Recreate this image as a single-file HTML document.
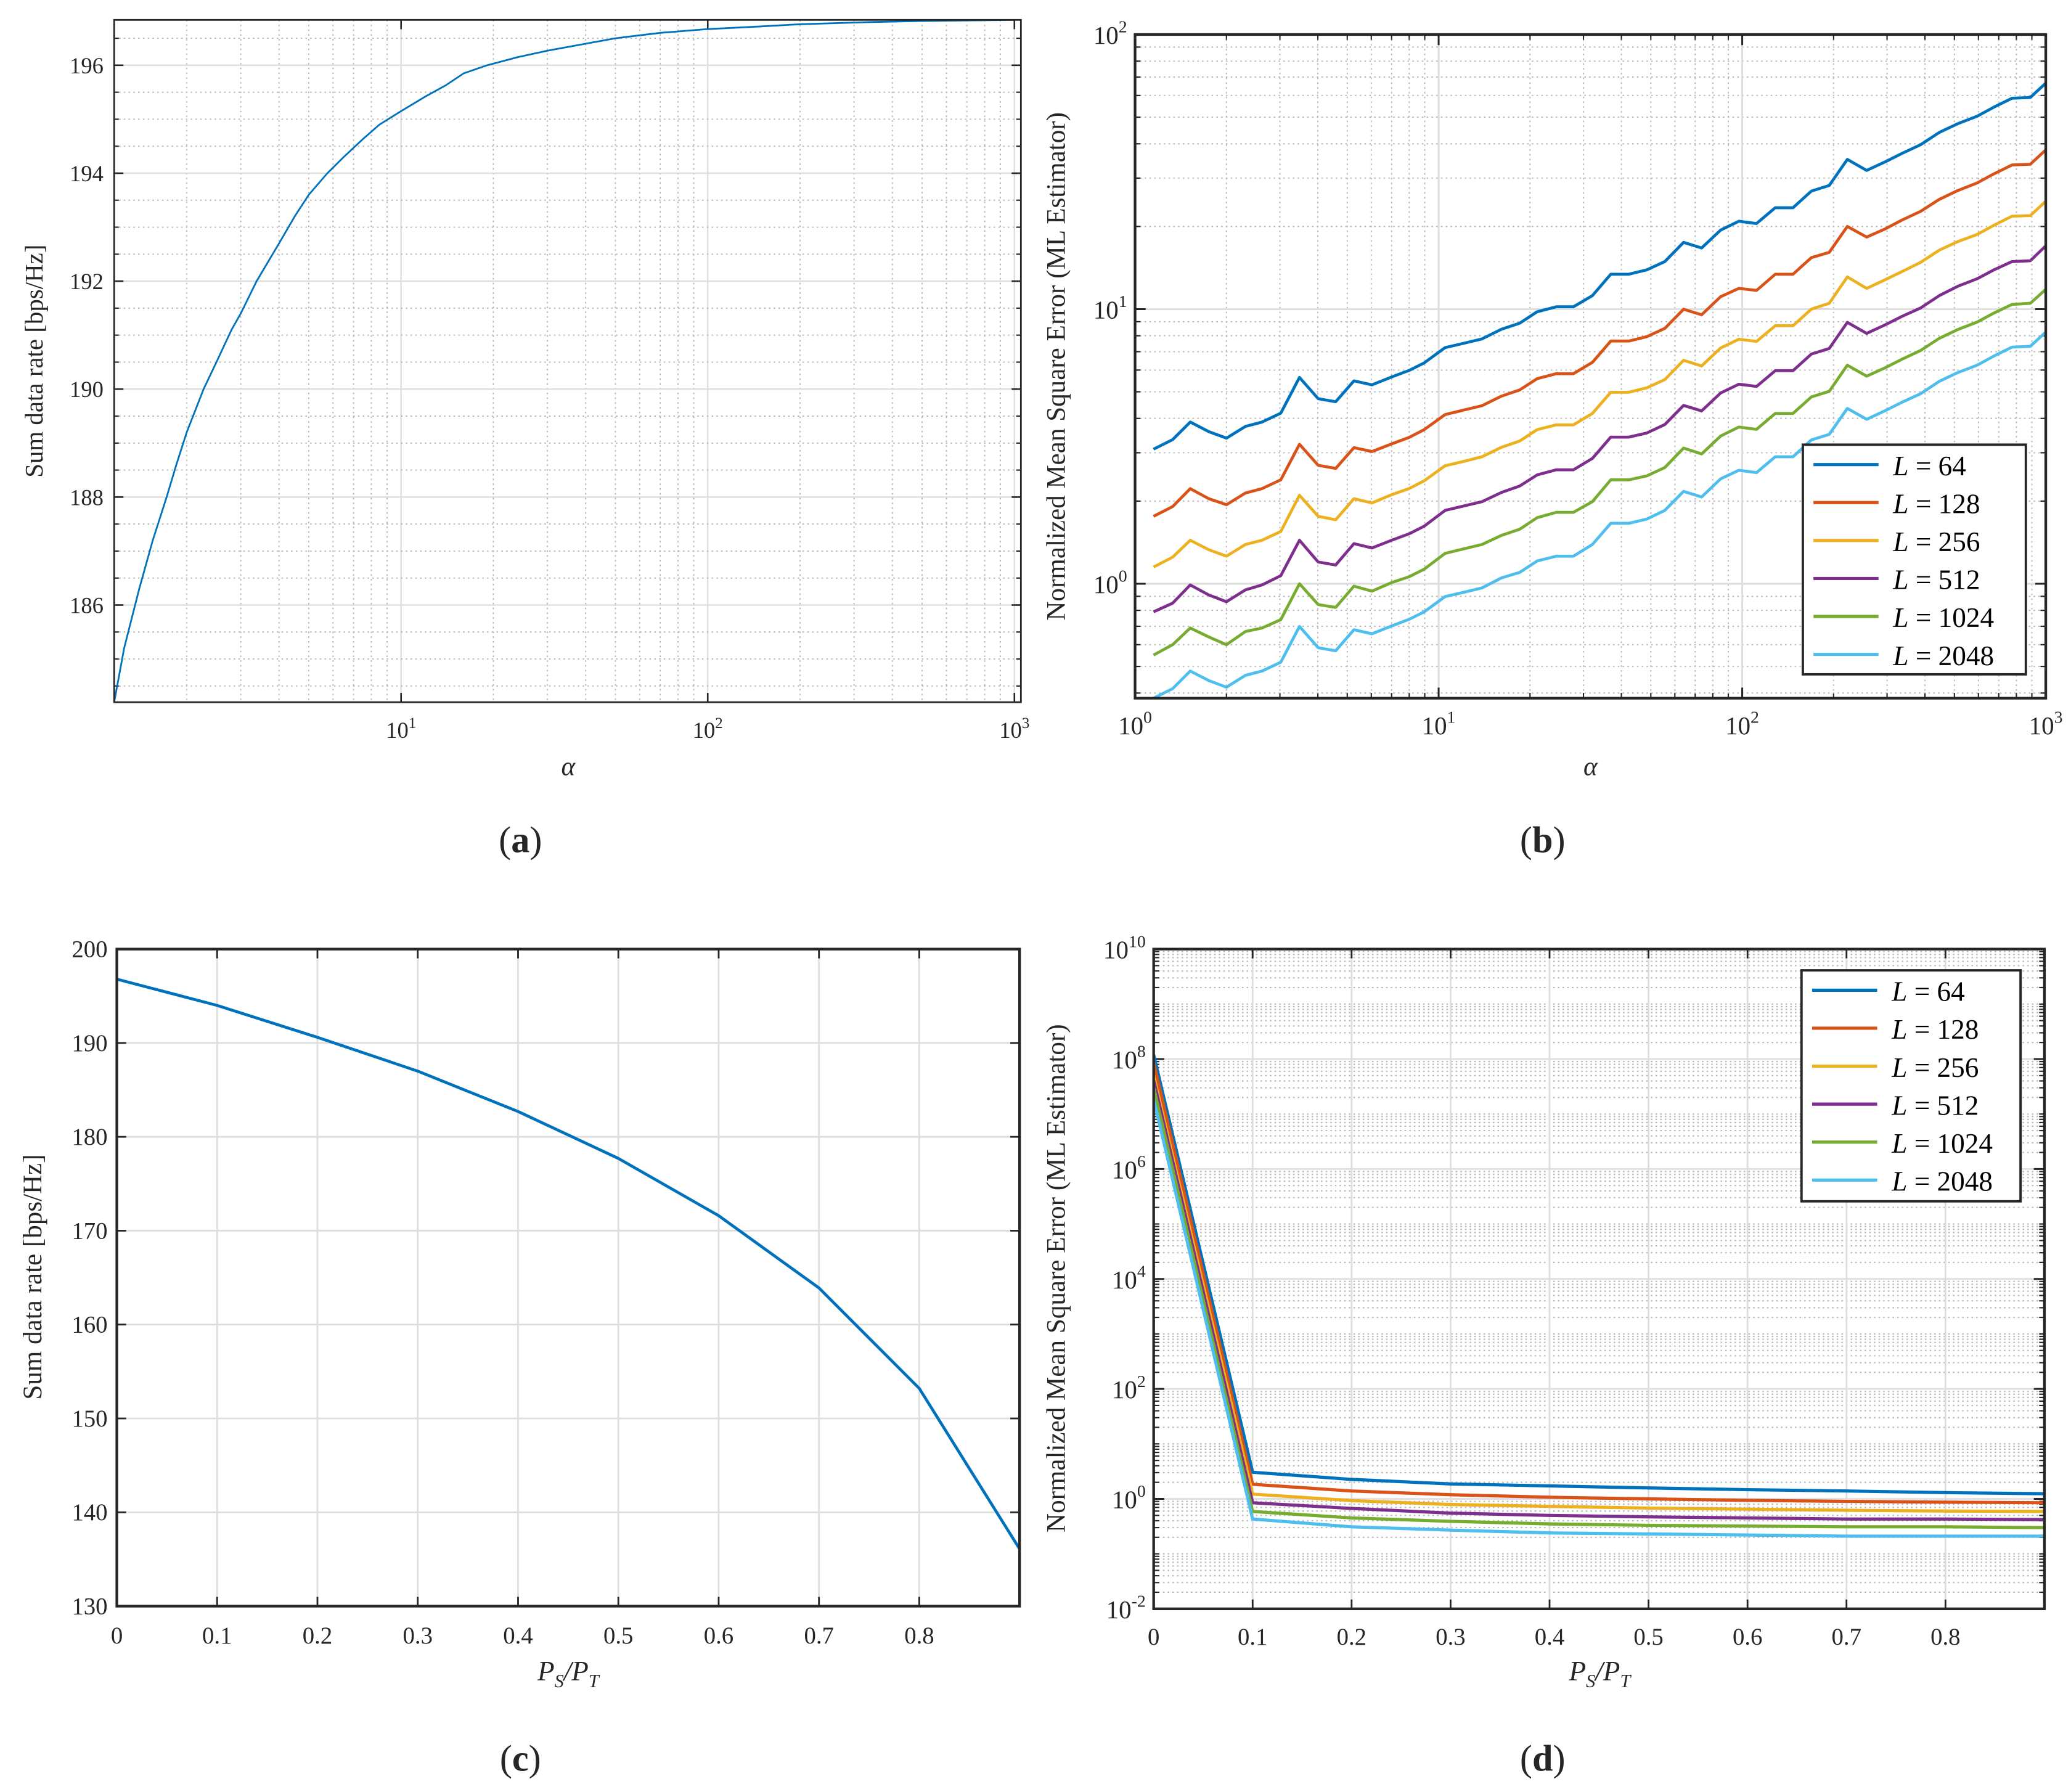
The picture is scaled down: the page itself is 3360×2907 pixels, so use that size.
<!DOCTYPE html>
<html><head><meta charset="utf-8"><style>
html,body{margin:0;padding:0;background:#fff;}
svg{display:block;font-family:"Liberation Serif",serif;}
</style></head><body>
<svg id="fig" width="3360" height="2907" viewBox="0 0 1560 1350" preserveAspectRatio="none" xmlns="http://www.w3.org/2000/svg">
<defs>
<clipPath id="clipA"><rect x="86" y="15" width="683" height="514"/></clipPath>
<clipPath id="clipB"><rect x="855" y="26" width="686" height="500"/></clipPath>
<clipPath id="clipC"><rect x="88" y="715" width="680" height="495"/></clipPath>
<clipPath id="clipD"><rect x="869" y="715" width="671" height="497"/></clipPath>
</defs>
</svg>
<script>
// ---- data: panel (a)
const alphaA = [1.16,1.25,1.4,1.55,1.72,1.85,2,2.27,2.5,2.8,3,3.38,4,4.5,5,5.75,6.5,7.5,8.5,10,12,14,16,19.1,24,30,40,50,70,100,150,200,340,500,1000];
const rateA = [184.2,185.2,186.3,187.2,188.0,188.6,189.2,190.0,190.5,191.1,191.4,192.0,192.7,193.2,193.6,194.0,194.3,194.63,194.9,195.15,195.42,195.63,195.85,196.0,196.15,196.27,196.4,196.5,196.6,196.67,196.72,196.76,196.8,196.82,196.84];
// ---- data: panel (b)
const alphaB = [1.15,1.33,1.52,1.75,2.0,2.31,2.62,3.02,3.48,4.01,4.58,5.26,6.03,7.0,7.99,8.96,10.5,12.1,13.9,16.1,18.5,21.1,24.4,27.8,32.1,36.9,42.3,48.5,55.6,64.1,73.5,84.9,97.5,111.5,128.5,147,169,193.5,222,257,296,336,387,446,512,594,675,774,889,1000];
const nmseB64 = [3.09,3.35,3.88,3.58,3.39,3.74,3.88,4.18,5.64,4.72,4.60,5.48,5.30,5.66,5.98,6.37,7.24,7.51,7.79,8.45,8.89,9.78,10.2,10.2,11.2,13.4,13.4,13.9,14.9,17.5,16.7,19.4,20.9,20.5,23.4,23.4,26.9,28.2,35.1,32.0,34.4,36.9,39.7,44.0,47.3,50.4,54.4,58.6,59.0,66.5];
const nmseB128 = [1.76,1.91,2.22,2.04,1.94,2.14,2.22,2.39,3.22,2.70,2.63,3.13,3.03,3.23,3.41,3.64,4.13,4.29,4.45,4.82,5.08,5.58,5.82,5.82,6.40,7.65,7.65,7.94,8.51,9.99,9.54,11.1,11.9,11.7,13.4,13.4,15.4,16.1,20.0,18.3,19.6,21.1,22.7,25.1,27.0,28.8,31.1,33.5,33.7,38.0];
const nmseB256 = [1.15,1.25,1.44,1.33,1.26,1.39,1.44,1.55,2.10,1.76,1.71,2.04,1.97,2.11,2.22,2.37,2.69,2.79,2.90,3.14,3.31,3.64,3.79,3.79,4.17,4.98,4.98,5.17,5.54,6.51,6.21,7.22,7.77,7.63,8.70,8.70,10.0,10.5,13.1,11.9,12.8,13.7,14.8,16.4,17.6,18.7,20.2,21.8,21.9,24.7];
const nmseB512 = [0.79,0.85,0.99,0.91,0.86,0.95,0.99,1.07,1.44,1.20,1.17,1.40,1.35,1.44,1.52,1.62,1.85,1.92,1.99,2.15,2.27,2.49,2.60,2.60,2.86,3.42,3.42,3.54,3.80,4.46,4.26,4.95,5.33,5.23,5.97,5.97,6.86,7.19,8.95,8.16,8.77,9.41,10.1,11.2,12.1,12.9,13.9,14.9,15.0,17.0];
const nmseB1024 = [0.55,0.60,0.69,0.64,0.60,0.67,0.69,0.74,1.00,0.84,0.82,0.98,0.94,1.01,1.06,1.13,1.29,1.34,1.39,1.50,1.58,1.74,1.82,1.82,1.99,2.39,2.39,2.47,2.65,3.12,2.97,3.45,3.72,3.65,4.17,4.17,4.79,5.02,6.25,5.70,6.12,6.57,7.07,7.83,8.42,8.97,9.68,10.4,10.5,11.8];
const nmseB2048 = [0.383,0.415,0.481,0.444,0.420,0.464,0.481,0.518,0.699,0.585,0.570,0.680,0.657,0.702,0.742,0.790,0.898,0.931,0.966,1.05,1.10,1.21,1.26,1.26,1.39,1.66,1.66,1.72,1.85,2.17,2.07,2.41,2.59,2.54,2.90,2.90,3.34,3.50,4.35,3.97,4.27,4.58,4.92,5.46,5.87,6.25,6.75,7.27,7.32,8.25];
// ---- data: panel (c)
const ratioC = [0,0.1,0.2,0.3,0.4,0.5,0.6,0.7,0.8,0.9];
const rateC = [196.8,194.0,190.6,187.0,182.7,177.7,171.6,163.9,153.2,136.1];
// ---- data: panel (d)
const ratioD = [0,0.1,0.2,0.3,0.4,0.5,0.6,0.7,0.8,0.9];
const nmseD64 = [1.2e8,3.05,2.26,1.87,1.72,1.58,1.47,1.39,1.30,1.24];
const nmseD128 = [8.6e7,1.84,1.39,1.19,1.07,1.0,0.94,0.90,0.87,0.85];
const nmseD256 = [5.0e7,1.22,0.93,0.79,0.73,0.68,0.65,0.62,0.60,0.59];
const nmseD512 = [4.1e7,0.85,0.67,0.55,0.50,0.47,0.45,0.43,0.43,0.42];
const nmseD1024 = [3.0e7,0.59,0.45,0.39,0.35,0.33,0.32,0.31,0.31,0.30];
const nmseD2048 = [1.86e7,0.43,0.31,0.27,0.24,0.23,0.22,0.21,0.21,0.21];
const legendLabels = ['64','128','256','512','1024','2048'];
const colors = ['#0072BD','#D95319','#EDB120','#7E2F8E','#77AC30','#4DBEEE'];

const NS = 'http://www.w3.org/2000/svg';
const svg = document.getElementById('fig');
const L10 = Math.log10;
function mk(tag, attrs, name, parent) {
  const el = document.createElementNS(NS, tag);
  for (const k in attrs) el.setAttribute(k, attrs[k]);
  
  
  (parent || svg).appendChild(el);
  return el;
}
function line(x1,y1,x2,y2,stroke,w,dash,name,p){
  const a={x1:x1,y1:y1,x2:x2,y2:y2,stroke:stroke,'stroke-width':w};
  if(dash) a['stroke-dasharray']=dash;
  return mk('line',a,name,p);
}
function txt(x,y,s,size,anchor,name,p,extra){
  const a={x:x,y:y,'font-size':size,'text-anchor':anchor||'middle',fill:'#262626'};
  for(const k in (extra||{})) a[k]=extra[k];
  const t=mk('text',a,name,p);
  t.textContent=s;
  return t;
}
function pow10(x,y,e,size,anchor,name,p){
  const t=mk('text',{x:x,y:y,'font-size':size,'text-anchor':anchor||'middle',fill:'#262626'},name,p);
  const b=document.createElementNS(NS,'tspan'); b.textContent='10'; t.appendChild(b);
  const s=document.createElementNS(NS,'tspan'); s.textContent=String(e);
  s.setAttribute('dy',-size*0.45); s.setAttribute('font-size',size*0.68); t.appendChild(s);
  return t;
}
function poly(xs,ys,fx,fy,color,w,name,clip){
  const pts=xs.map((x,i)=>fx(x).toFixed(2)+','+fy(ys[i]).toFixed(2)).join(' ');
  return mk('polyline',{points:pts,fill:'none',stroke:color,'stroke-width':w,'stroke-linejoin':'round','clip-path':'url(#'+clip+')'},name);
}
function box(x,y,w,h,name){
  mk('rect',{x:x,y:y,width:w,height:h,fill:'none',stroke:'#262626','stroke-width':1.3},name);
}
const GRID='#dedede', MINOR='#b8b8b8', DOT='1.2 2.4';

// ===== Panel (a)
(function(){
  const X0=86,X1=769,Y0=15,Y1=529, amin=1.16, amax=1050, vmin=184.2, vmax=196.84;
  const fx=a=>X0+(L10(a)-L10(amin))/(L10(amax)-L10(amin))*(X1-X0);
  const fy=v=>Y1-(v-vmin)/(vmax-vmin)*(Y1-Y0);
  const g=mk('g',{},'panel-a');
  for(let k=0;k<=3;k++)for(let m=1;m<=9;m++){const a=m*Math.pow(10,k); if(a<amin||a>amax) continue; const x=fx(a);
    if(m===1){line(x,Y0,x,Y1,GRID,1.1,null,'x-major-grid',g);} else line(x,Y0,x,Y1,MINOR,0.9,DOT,'x-minor-grid',g);}
  for(let v=184.5;v<vmax;v+=0.5){const y=fy(v); if(Math.abs(v-Math.round(v/2)*2)<1e-6) line(X0,y,X1,y,GRID,1.1,null,'y-major-grid',g); else line(X0,y,X1,y,MINOR,0.9,DOT,'y-minor-grid',g);}
  for(let v=186;v<=196;v+=2){const y=fy(v); line(X0,y,X0+7,y,'#262626',1.2,null,'y-tick',g); line(X1,y,X1-7,y,'#262626',1.2,null,'y-tick',g); txt(X0-8,y+6,String(v),17,'end','y-tick-label',g);}
  for(let v=184.5;v<vmax;v+=0.5){const y=fy(v); line(X0,y,X0+3.5,y,'#262626',1,null,'y-minor-tick',g); line(X1,y,X1-3.5,y,'#262626',1,null,'y-minor-tick',g);}
  [1,2,3].forEach(e=>{const x=fx(Math.pow(10,e)); line(x,Y1,x,Y1-7,'#262626',1.2,null,'x-tick',g); line(x,Y0,x,Y0+7,'#262626',1.2,null,'x-tick',g); pow10(x,Y1+27,e,17,'middle','x-tick-label',g);});
  poly(alphaA,rateA,fx,fy,colors[0],1.3,'rate-curve','clipA');
  box(X0,Y0,X1-X0,Y1-Y0,'axes-box-a');
  txt(0,0,'Sum data rate [bps/Hz]',19,'middle','y-axis-title-a',g,{transform:'translate(32,272) rotate(-90)'});
  txt(428,584,'α',20,'middle','x-axis-title-a',g,{'font-style':'italic'});
  const c=txt(392,642,'',28,'middle','caption-a',g);
  const t1=document.createElementNS(NS,'tspan'); t1.textContent='('; c.appendChild(t1);
  const t2=document.createElementNS(NS,'tspan'); t2.textContent='a'; t2.setAttribute('font-weight','bold'); c.appendChild(t2);
  const t3=document.createElementNS(NS,'tspan'); t3.textContent=')'; c.appendChild(t3);
})();

// ===== Panel (b)
(function(){
  const X0=855,X1=1541,Y0=26,Y1=526, vmin=0.383, vmax=100;
  const fx=a=>X0+L10(a)/3*(X1-X0);
  const fy=v=>Y0+(L10(vmax)-L10(v))/(L10(vmax)-L10(vmin))*(Y1-Y0);
  const g=mk('g',{},'panel-b');
  for(let k=0;k<3;k++)for(let m=2;m<=9;m++){const x=fx(m*Math.pow(10,k)); line(x,Y0,x,Y1,MINOR,0.9,DOT,'x-minor-grid',g); line(x,Y1,x,Y1-4,'#262626',1,null,'x-minor-tick',g); line(x,Y0,x,Y0+4,'#262626',1,null,'x-minor-tick',g);}
  for(let k=-1;k<2;k++)for(let m=2;m<=9;m++){const v=m*Math.pow(10,k); if(v<vmin) continue; const y=fy(v); line(X0,y,X1,y,MINOR,0.9,DOT,'y-minor-grid',g); line(X0,y,X0+4,y,'#262626',1,null,'y-minor-tick',g); line(X1,y,X1-4,y,'#262626',1,null,'y-minor-tick',g);}
  [1,2].forEach(e=>{const x=fx(Math.pow(10,e)); line(x,Y0,x,Y1,GRID,1.4,null,'x-major-grid',g);});
  [0,1].forEach(e=>{const y=fy(Math.pow(10,e)); line(X0,y,X1,y,GRID,1.4,null,'y-major-grid',g);});
  [0,1,2,3].forEach(e=>{const x=fx(Math.pow(10,e)); line(x,Y1,x,Y1-8,'#262626',1.4,null,'x-tick',g); line(x,Y0,x,Y0+8,'#262626',1.4,null,'x-tick',g); pow10(x,Y1+27,e,19,'middle','x-tick-label',g);});
  [0,1,2].forEach(e=>{const y=fy(Math.pow(10,e)); line(X0,y,X0+8,y,'#262626',1.4,null,'y-tick',g); line(X1,y,X1-8,y,'#262626',1.4,null,'y-tick',g); pow10(X0-6,y+7,e,19,'end','y-tick-label',g);});
  const series=[nmseB64,nmseB128,nmseB256,nmseB512,nmseB1024,nmseB2048];
  series.forEach((s,i)=>{ poly(alphaB,s,fx,fy,colors[i],2.2,'nmse-line-L'+legendLabels[i],'clipB'); });
  mk('rect',{x:X0,y:Y0,width:X1-X0,height:Y1-Y0,fill:'none',stroke:'#262626','stroke-width':2},'axes-box-b');
  txt(0,0,'Normalized Mean Square Error (ML Estimator)',20,'middle','y-axis-title-b',g,{transform:'translate(802,276) rotate(-90)'});
  txt(1198,584,'α',20,'middle','x-axis-title-b',g,{'font-style':'italic'});
  const c=txt(1162,642,'',28,'middle','caption-b',g);
  const t1=document.createElementNS(NS,'tspan'); t1.textContent='('; c.appendChild(t1);
  const t2=document.createElementNS(NS,'tspan'); t2.textContent='b'; t2.setAttribute('font-weight','bold'); c.appendChild(t2);
  const t3=document.createElementNS(NS,'tspan'); t3.textContent=')'; c.appendChild(t3);
  legend(1358,335,168,173,'legend-b');
})();

function legend(x,y,w,h,name){
  const g=mk('g',{},name);
  mk('rect',{x:x,y:y,width:w,height:h,fill:'#fff',stroke:'#262626','stroke-width':1.8},name+'-box',g);
  legendLabels.forEach((lab,i)=>{
    const yy=y+15+i*28.6;
    line(x+8,yy,x+57,yy,colors[i],2.4,null,'legend-line-L'+lab,g);
    const t=mk('text',{x:x+68,y:yy+8,'font-size':21,fill:'#000'},'legend-entry-L'+lab,g);
    const a=document.createElementNS(NS,'tspan'); a.textContent='L'; a.setAttribute('font-style','italic'); t.appendChild(a);
    const b=document.createElementNS(NS,'tspan'); b.textContent=' = '+lab; t.appendChild(b);
  });
}

function psptLabel(x,y,name,g){
  const t=mk('text',{x:x,y:y,'font-size':21,'text-anchor':'middle',fill:'#262626','font-style':'italic'},name,g);
  const parts=[['P',0,21],['S',5,14],['/P',-5,21],['T',5,14]];
  parts.forEach(p=>{const s=document.createElementNS(NS,'tspan'); s.textContent=p[0]; s.setAttribute('dy',p[1]); s.setAttribute('font-size',p[2]); t.appendChild(s);});
}

// ===== Panel (c)
(function(){
  const X0=88,X1=768,Y0=715,Y1=1210;
  const fx=p=>X0+p/0.9*(X1-X0);
  const fy=v=>Y0+(200-v)/70*(Y1-Y0);
  const g=mk('g',{},'panel-c');
  for(let i=1;i<=8;i++){const x=fx(i/10); line(x,Y0,x,Y1,GRID,1.3,null,'x-grid',g);}
  for(let v=140;v<=190;v+=10){const y=fy(v); line(X0,y,X1,y,GRID,1.3,null,'y-grid',g);}
  for(let i=0;i<=8;i++){const x=fx(i/10); line(x,Y1,x,Y1-7,'#262626',1.3,null,'x-tick',g); line(x,Y0,x,Y0+7,'#262626',1.3,null,'x-tick',g); txt(x,Y1+28,i===0?'0':(i/10).toFixed(1),18,'middle','x-tick-label',g);}
  for(let v=130;v<=200;v+=10){const y=fy(v); line(X0,y,X0+7,y,'#262626',1.3,null,'y-tick',g); line(X1,y,X1-7,y,'#262626',1.3,null,'y-tick',g); txt(X0-7,y+6,String(v),18,'end','y-tick-label',g);}
  poly(ratioC,rateC,fx,fy,colors[0],2.2,'rate-vs-power-line','clipC');
  mk('rect',{x:X0,y:Y0,width:X1-X0,height:Y1-Y0,fill:'none',stroke:'#262626','stroke-width':2},'axes-box-c');
  txt(0,0,'Sum data rate [bps/Hz]',20,'middle','y-axis-title-c',g,{transform:'translate(31,962) rotate(-90)'});
  psptLabel(428,1266,'x-axis-title-c',g);
  const c=txt(392,1334,'',28,'middle','caption-c',g);
  const t1=document.createElementNS(NS,'tspan'); t1.textContent='('; c.appendChild(t1);
  const t2=document.createElementNS(NS,'tspan'); t2.textContent='c'; t2.setAttribute('font-weight','bold'); c.appendChild(t2);
  const t3=document.createElementNS(NS,'tspan'); t3.textContent=')'; c.appendChild(t3);
})();

// ===== Panel (d)
(function(){
  const X0=869,X1=1540,Y0=715,Y1=1212;
  const fx=p=>X0+p/0.9*(X1-X0);
  const fy=v=>Y0+(10-L10(v))/12*(Y1-Y0);
  const g=mk('g',{},'panel-d');
  for(let k=-2;k<10;k++)for(let m=1;m<=9;m++){ if(m===1&&k%2===0) continue; const y=fy(m*Math.pow(10,k)); line(X0,y,X1,y,MINOR,1,'1.2 2.3','y-minor-grid',g); line(X0,y,X0+4,y,'#262626',1,null,'y-minor-tick',g); line(X1,y,X1-4,y,'#262626',1,null,'y-minor-tick',g);}
  for(let i=1;i<=8;i++){const x=fx(i/10); line(x,Y0,x,Y1,GRID,1.3,null,'x-grid',g);}
  for(let e=0;e<10;e+=2){const y=fy(Math.pow(10,e)); line(X0,y,X1,y,GRID,1.3,null,'y-major-grid',g);}
  for(let i=0;i<=8;i++){const x=fx(i/10); line(x,Y1,x,Y1-7,'#262626',1.3,null,'x-tick',g); line(x,Y0,x,Y0+7,'#262626',1.3,null,'x-tick',g); txt(x,Y1+27,i===0?'0':(i/10).toFixed(1),18,'middle','x-tick-label',g);}
  for(let e=-2;e<=10;e+=2){const y=fy(Math.pow(10,e)); line(X0,y,X0+8,y,'#262626',1.4,null,'y-tick',g); line(X1,y,X1-8,y,'#262626',1.4,null,'y-tick',g); pow10(X0-6,y+7,e,19,'end','y-tick-label',g);}
  const series=[nmseD64,nmseD128,nmseD256,nmseD512,nmseD1024,nmseD2048];
  series.forEach((s,i)=>{ poly(ratioD,s,fx,fy,colors[i],2.4,'nmse-vs-power-L'+legendLabels[i],'clipD'); });
  mk('rect',{x:X0,y:Y0,width:X1-X0,height:Y1-Y0,fill:'none',stroke:'#262626','stroke-width':2},'axes-box-d');
  txt(0,0,'Normalized Mean Square Error (ML Estimator)',20,'middle','y-axis-title-d',g,{transform:'translate(802,963) rotate(-90)'});
  psptLabel(1205,1266,'x-axis-title-d',g);
  const c=txt(1162,1334,'',28,'middle','caption-d',g);
  const t1=document.createElementNS(NS,'tspan'); t1.textContent='('; c.appendChild(t1);
  const t2=document.createElementNS(NS,'tspan'); t2.textContent='d'; t2.setAttribute('font-weight','bold'); c.appendChild(t2);
  const t3=document.createElementNS(NS,'tspan'); t3.textContent=')'; c.appendChild(t3);
  legend(1357,731,165,174,'legend-d');
})();
</script>
</body></html>
